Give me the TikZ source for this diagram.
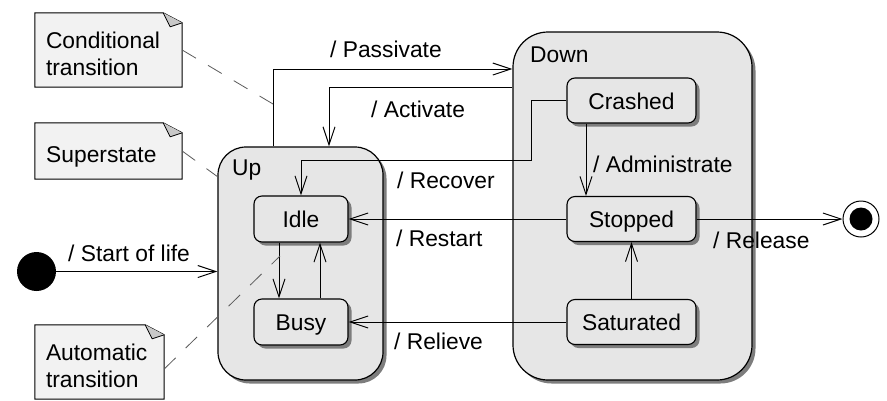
\documentclass[tikz,border=0pt]{standalone}
\usepackage{fontspec}
\setmainfont{Liberation Sans}
\usetikzlibrary{arrows.meta,shadows,backgrounds}
\definecolor{notefill}{RGB}{242,242,242}
\definecolor{statefill}{RGB}{230,230,230}
\definecolor{shadowgray}{RGB}{125,125,125}
\definecolor{foldgray}{RGB}{200,200,200}
\definecolor{linkgray}{RGB}{90,90,90}
\begin{document}
\begin{tikzpicture}[x=1pt,y=-1pt,
  font=\fontsize{22.8}{27}\selectfont,
  boxshadow/.style={drop shadow={shadow xshift=3.5pt,shadow yshift=-3.5pt,fill=shadowgray,opacity=1}},
  superbox/.style={draw,line width=1.2pt,fill=statefill,inner sep=0pt,boxshadow},
  statebox/.style={draw,line width=1.1pt,rounded corners=8pt,fill=statefill,
    minimum width=94pt,minimum height=46pt,inner sep=0pt,text height=17pt,text depth=0pt,boxshadow},
  notebox/.style={inner sep=0pt},
  notetext/.style={inner sep=0pt,align=left},
  conn/.style={line width=1pt,-{Straight Barb[length=18pt,width=12pt,line width=1pt]}},
  notelink/.style={line width=0.8pt,draw=linkgray,dash pattern=on 16pt off 14pt},
  lbl/.style={inner sep=0pt,anchor=base west}]
\useasboundingbox (0,0) rectangle (887,400);

% superstates
\node[superbox,rounded corners=28pt,minimum width=165pt,minimum height=233pt] (up) at (300.5,263.5) {};
\node[superbox,rounded corners=35pt,minimum width=239pt,minimum height=348pt] (down) at (632.5,206) {};
\node[lbl] (uplbl) at (232,175) {Up};
\node[lbl] (downlbl) at (530,62) {Down};

% states
\node[statebox] (idle) at (301,219) {Idle};
\node[statebox] (busy) at (301,322) {Busy};
\node[statebox,minimum width=129pt,minimum height=45pt] (crashed) at (631.5,100.5) {Crashed};
\node[statebox,minimum width=129pt,minimum height=45pt] (stopped) at (631.5,219) {Stopped};
\node[statebox,minimum width=129pt,minimum height=45pt] (saturated) at (631.5,322) {Saturated};

% initial and final
\node[circle,fill=black,minimum size=39pt,inner sep=0pt] (init) at (36.5,271.5) {};
\node[circle,draw,line width=1pt,fill=white,minimum size=36pt,inner sep=0pt] (final) at (861,219) {};
\node[circle,fill=black,minimum size=23pt,inner sep=0pt] (finalin) at (final.center) {};

% notes
\node[notebox,minimum width=147pt,minimum height=74pt] (ncond) at (108.5,50) {};
\node[notebox,minimum width=147pt,minimum height=56pt] (nsup) at (108.5,151) {};
\node[notebox,minimum width=129pt,minimum height=74pt] (nauto) at (99.5,362) {};
\begin{scope}[on background layer]
\foreach \n in {ncond,nsup,nauto}{
  \filldraw[fill=notefill,line width=1pt] (\n.south west) -- (\n.north west) -- ([xshift=-19pt]\n.north east)
    -- ([yshift=-10pt]\n.north east) -- (\n.south east) -- cycle;
  \filldraw[fill=foldgray,line width=0.8pt,line join=round] ([xshift=-19pt]\n.north east)
    -- ([xshift=-12pt,yshift=-14pt]\n.north east) -- ([yshift=-10pt]\n.north east);
}
\end{scope}
\node[notetext,text width=125pt] (ncondt) at (108.5,54) {Conditional\\transition};
\node[lbl] (nsupt) at (46,162) {Superstate};
\node[notetext,text width=107pt] (nautot) at (99.5,366) {Automatic\\transition};

% transitions
\draw[conn] (init) -- (init -| up.west);
\coordinate (passA) at (273,69);
\draw[conn] (passA |- up.north) |- (down.west |- passA);
\coordinate (actA) at (329,87);
\draw[conn] (down.west |- actA) -| (actA |- up.north);
\coordinate (recA) at (531,160);
\draw[conn] (crashed.west) -| (recA) -| (idle.north);
\draw[conn] (stopped.west) -- (idle.east);
\draw[conn] (saturated.west) -- (busy.east);
\draw[conn] ([xshift=-22pt]idle.south) -- ([xshift=-22pt]busy.north);
\draw[conn] ([xshift=19pt]busy.north) -- ([xshift=19pt]idle.south);
\draw[conn] ([xshift=-45.5pt]crashed.south) -- ([xshift=-45.5pt]stopped.north);
\draw[conn] (saturated.north) -- (stopped.south);
\draw[conn] (stopped.east) -- (final);

% transition labels
\node[lbl] (lstart) at (68,261) {/ Start of life};
\node[lbl] (lpass) at (330,57) {/ Passivate};
\node[lbl] (lact) at (371,117) {/ Activate};
\node[lbl] (lrec) at (397,188) {/ Recover};
\node[lbl] (lrest) at (396,246) {/ Restart};
\node[lbl] (lrel) at (394,349) {/ Relieve};
\node[lbl] (ladm) at (593,172) {/ Administrate};
\node[lbl] (lrelease) at (713,248) {/ Release};

% note links
\coordinate (condEnd) at (273,104);
\draw[notelink] (ncond.east) -- (condEnd);
\coordinate (supEnd) at (218,177);
\draw[notelink] (nsup.east) -- (supEnd);
\coordinate (autoEnd) at (280,256);
\draw[notelink] ([yshift=-7pt]nauto.east) -- (autoEnd);
\end{tikzpicture}
\end{document}
